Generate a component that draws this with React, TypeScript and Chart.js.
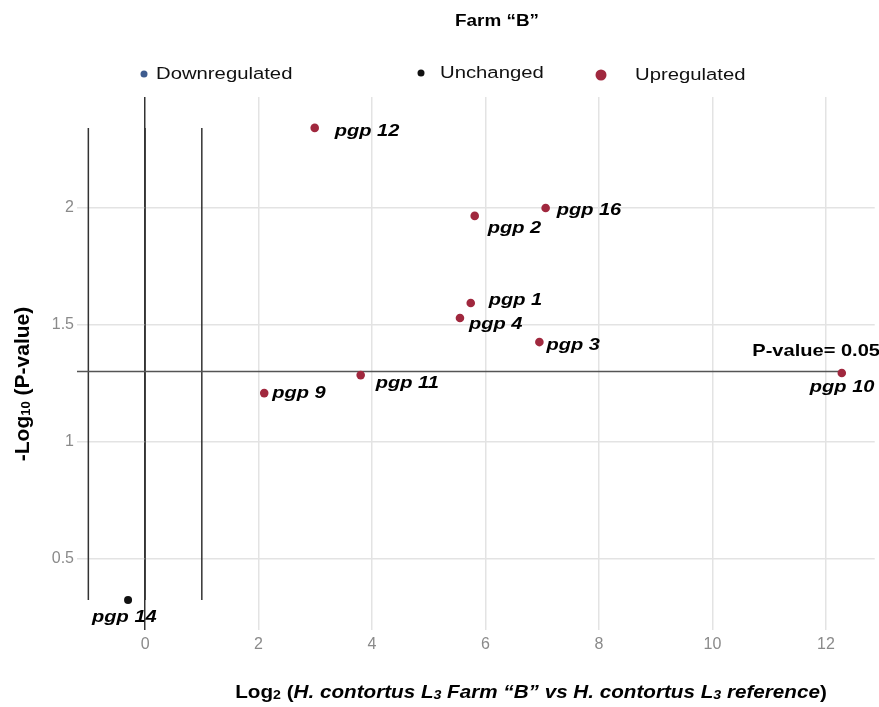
import React, { useEffect, useRef } from "react";
import { Chart, registerables } from "chart.js";

Chart.register(...registerables);

// ---- Data ----
const upGenes = ["pgp 12", "pgp 16", "pgp 2", "pgp 1", "pgp 4", "pgp 3", "pgp 11", "pgp 9", "pgp 10"];
const upLog2FC = [2.99, 7.06, 5.81, 5.74, 5.55, 6.95, 3.8, 2.1, 12.28];
const upNegLog10P = [2.342, 2.0, 1.966, 1.594, 1.53, 1.427, 1.286, 1.209, 1.295];

const unchangedGenes = ["pgp 14"];
const unchangedLog2FC = [-0.3];
const unchangedNegLog10P = [0.325];

const downGenes: string[] = [];
const downLog2FC: number[] = [];
const downNegLog10P: number[] = [];

const xTickValues = [0, 2, 4, 6, 8, 10, 12];
const yTickValues = [0.5, 1, 1.5, 2];
const foldChangeCutoffs = [-1, 0, 1];
const pValueCutoff = 0.05;
const legendLabels = ["Downregulated", "Unchanged", "Upregulated"];

// ---- Styling / placement ----
const X_MIN = -1.2;
const X_MAX = 12.86;
const Y_MIN = 0.197;
const Y_MAX = 2.474;
const RED = "#a0283e";
const BLUE = "#3e5c8f";
const BLACK = "#111111";
const FONT = '"Liberation Sans", Arial, sans-serif';
const SX = 1.18; // horizontal stretch of the reference's text

const labelOffsets: Record<string, [number, number]> = {
  "pgp 12": [20, 3],
  "pgp 16": [11, 2],
  "pgp 2": [13, 12],
  "pgp 1": [18, -3],
  "pgp 4": [9, 6],
  "pgp 3": [7, 3],
  "pgp 11": [15, 8],
  "pgp 9": [8, 0],
  "pgp 10": [-32, 14],
  "pgp 14": [-36, 17],
};

type Seg = { t: string; font: string; dy?: number };

function drawSegs(ctx: CanvasRenderingContext2D, segs: Seg[], cx: number, y: number, sx: number) {
  let total = 0;
  for (const s of segs) {
    ctx.font = s.font;
    total += ctx.measureText(s.t).width;
  }
  ctx.save();
  ctx.translate(cx - (total * sx) / 2, y);
  ctx.scale(sx, 1);
  ctx.textAlign = "left";
  ctx.textBaseline = "middle";
  let x = 0;
  for (const s of segs) {
    ctx.font = s.font;
    ctx.fillText(s.t, x, s.dy || 0);
    x += ctx.measureText(s.t).width;
  }
  ctx.restore();
}

function stretchText(
  ctx: CanvasRenderingContext2D,
  text: string,
  x: number,
  y: number,
  font: string,
  align: CanvasTextAlign,
  sx: number
) {
  ctx.save();
  ctx.translate(x, y);
  ctx.scale(sx, 1);
  ctx.font = font;
  ctx.textAlign = align;
  ctx.textBaseline = "middle";
  ctx.fillText(text, 0, 0);
  ctx.restore();
}

const annotationsPlugin = {
  id: "annotations",
  afterDatasetsDraw(chart: any) {
    const ctx: CanvasRenderingContext2D = chart.ctx;
    ctx.save();
    ctx.fillStyle = "#000";

    // point labels
    const labelFont = `italic bold 17px ${FONT}`;
    const drawLabels = (dsIndex: number, genes: string[]) => {
      const meta = chart.getDatasetMeta(dsIndex);
      meta.data.forEach((pt: any, i: number) => {
        const name = genes[i];
        const off = labelOffsets[name] || [10, 0];
        stretchText(ctx, name, pt.x + off[0], pt.y + off[1], labelFont, "left", SX);
      });
    };
    drawLabels(0, upGenes);
    drawLabels(1, unchangedGenes);
    drawLabels(2, downGenes);

    // P-value threshold label
    const thrY = chart.scales.y.getPixelForValue(-Math.log10(pValueCutoff));
    stretchText(ctx, `P-value= ${pValueCutoff}`, 880, thrY - 20, `bold 17px ${FONT}`, "right", SX);

    // title
    stretchText(ctx, "Farm \u201cB\u201d", 497, 22, `bold 16px ${FONT}`, "center", SX);

    // legend
    const legendItems = [
      { label: legendLabels[0], color: BLUE, r: 3.5, dx: 144, tx: 156, y: 74 },
      { label: legendLabels[1], color: BLACK, r: 3.5, dx: 421, tx: 440, y: 73 },
      { label: legendLabels[2], color: RED, r: 5.5, dx: 601, tx: 635, y: 75 },
    ];
    for (const it of legendItems) {
      ctx.beginPath();
      ctx.fillStyle = it.color;
      ctx.arc(it.dx, it.y, it.r, 0, Math.PI * 2);
      ctx.fill();
      ctx.fillStyle = "#111";
      stretchText(ctx, it.label, it.tx, it.y, `17.2px ${FONT}`, "left", SX);
    }

    // x axis title
    const b = `bold 17.5px ${FONT}`;
    const bi = `italic bold 17.5px ${FONT}`;
    const sub = `bold 12px ${FONT}`;
    const subi = `italic bold 12px ${FONT}`;
    ctx.fillStyle = "#000";
    drawSegs(
      ctx,
      [
        { t: "Log", font: b },
        { t: "2", font: sub, dy: 3 },
        { t: " (", font: b },
        { t: "H. contortus L", font: bi },
        { t: "3", font: subi, dy: 3 },
        { t: " Farm \u201cB\u201d vs H. contortus L", font: bi },
        { t: "3", font: subi, dy: 3 },
        { t: " reference", font: bi },
        { t: ")", font: b },
      ],
      531,
      693,
      SX
    );

    // y axis title (rotated)
    ctx.save();
    ctx.translate(23, 384);
    ctx.rotate(-Math.PI / 2);
    const yb = `bold 21px ${FONT}`;
    const ysub = `bold 13px ${FONT}`;
    drawSegs(
      ctx,
      [
        { t: "-Log", font: yb },
        { t: "10", font: ysub, dy: 3 },
        { t: " (P-value)", font: yb },
      ],
      0,
      0,
      1
    );
    ctx.restore();

    ctx.restore();
  },
};

export default function App() {
  const canvasRef = useRef<HTMLCanvasElement | null>(null);

  useEffect(() => {
    document.body.style.margin = "0";
    const canvas = canvasRef.current;
    if (!canvas) return;

    const allY = [...upNegLog10P, ...unchangedNegLog10P, ...downNegLog10P];
    const yLow = Math.min(...allY);
    const yHigh = Math.max(...allY);
    const thr = -Math.log10(pValueCutoff);
    const xRight = Math.max(...upLog2FC, ...unchangedLog2FC, ...downLog2FC);

    const lineDs = (data: { x: number; y: number }[]) => ({
      type: "scatter" as const,
      data,
      showLine: true,
      borderColor: "#333",
      borderWidth: 1.5,
      pointRadius: 0,
      pointHoverRadius: 0,
      fill: false,
    });

    const chart = new Chart(canvas, {
      type: "scatter",
      data: {
        datasets: [
          {
            label: legendLabels[2],
            data: upLog2FC.map((x, i) => ({ x, y: upNegLog10P[i] })),
            backgroundColor: RED,
            borderWidth: 0,
            pointRadius: 4.3,
          },
          {
            label: legendLabels[1],
            data: unchangedLog2FC.map((x, i) => ({ x, y: unchangedNegLog10P[i] })),
            backgroundColor: BLACK,
            borderWidth: 0,
            pointRadius: 4,
          },
          {
            label: legendLabels[0],
            data: downLog2FC.map((x, i) => ({ x, y: downNegLog10P[i] })),
            backgroundColor: BLUE,
            borderWidth: 0,
            pointRadius: 4,
          },
          { ...lineDs([{ x: X_MIN, y: thr }, { x: xRight, y: thr }]), borderColor: "#555" },
          ...foldChangeCutoffs.map((c) =>
            lineDs([
              { x: c, y: yLow },
              { x: c, y: yHigh },
            ])
          ),
        ] as any,
      },
      options: {
        animation: false,
        responsive: false,
        maintainAspectRatio: false,
        layout: { padding: { top: 97, left: 0, right: 0, bottom: 0 } },
        plugins: {
          legend: { display: false },
          tooltip: { enabled: false },
          title: { display: false },
        },
        scales: {
          x: {
            type: "linear",
            min: X_MIN,
            max: X_MAX,
            afterBuildTicks: (s: any) => {
              s.ticks = xTickValues.map((v) => ({ value: v }));
            },
            afterFit: (s: any) => {
              s.height = 77;
              s.paddingLeft = 0;
              s.paddingRight = 0;
            },
            border: { display: false },
            grid: {
              drawTicks: false,
              color: (c: any) => (c.tick && c.tick.value === 0 ? "#333" : "#e3e3e3"),
              lineWidth: 1.5,
            },
            ticks: {
              padding: 5,
              color: "#8a8a8a",
              font: { family: FONT, size: 16 },
              callback: (v: any) => String(v),
            },
          },
          y: {
            type: "linear",
            min: Y_MIN,
            max: Y_MAX,
            afterBuildTicks: (s: any) => {
              s.ticks = yTickValues.map((v) => ({ value: v }));
            },
            afterFit: (s: any) => {
              s.width = 77;
              s.paddingTop = 0;
              s.paddingBottom = 0;
            },
            border: { display: false },
            grid: {
              drawTicks: false,
              color: "#e3e3e3",
              lineWidth: 1.5,
            },
            ticks: {
              padding: 3,
              color: "#8a8a8a",
              font: { family: FONT, size: 16 },
              callback: (v: any) => String(v),
            },
          },
        },
      },
      plugins: [annotationsPlugin],
    });

    return () => chart.destroy();
  }, []);

  return (
    <div style={{ width: 879, height: 707, background: "#fff" }}>
      <canvas ref={canvasRef} width={879} height={707} style={{ display: "block", width: 879, height: 707 }} />
    </div>
  );
}
